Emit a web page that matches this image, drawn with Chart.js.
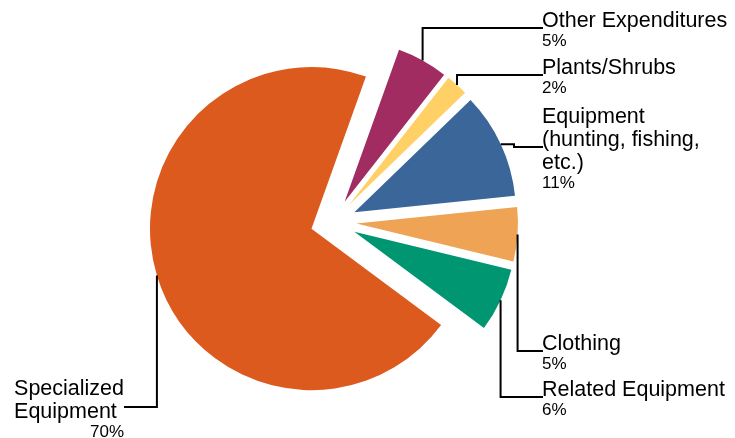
<!DOCTYPE html>
<html lang="en">
  <head>
    <meta charset="UTF-8" />
    <meta name="viewport" content="width=device-width, initial-scale=1.0" />
    <script src="https://cdn.jsdelivr.net/npm/chart.js@4.4.0/dist/chart.umd.min.js"></script>
    <title>Expenditures</title>
    <style>
      html, body { margin: 0; padding: 0; background: #fff; }
      canvas { display: block; }
    </style>
  </head>
  <body>
    <canvas id="myChart" width="735" height="438"></canvas>

    <script>
      // slices, clockwise starting at the top right
      const categories = [
        'Other Expenditures',
        'Plants/Shrubs',
        ['Equipment', '(hunting, fishing,', 'etc.)'],
        'Clothing',
        'Related Equipment',
        ['Specialized', 'Equipment']
      ];
      const shares = [5.1, 2.2, 10.6, 5.4, 6.4, 70.3];
      const colors = ['#a12c62', '#fed066', '#3a6699', '#eea355', '#009672', '#dd5a1f'];

      // label placement (end of each leader line)
      const labelSide = ['right', 'right', 'right', 'right', 'right', 'left'];
      const labelX = [543, 543, 543, 543, 543, 124];
      const labelY = [28, 75, 147, 351, 397, 407];
      const elbowX = [null, null, 514, null, null, null];

      const EXPLODE = 23;
      const FONT = '"Liberation Sans", Arial, sans-serif';
      const LINE_H = 23;
      const PCT_GAP = 19;

      // push every slice out along its middle angle
      const explode = {
        id: 'explode',
        afterDatasetsUpdate(chart) {
          chart.getDatasetMeta(0).data.forEach(arc => {
            const mid = (arc.startAngle + arc.endAngle) / 2;
            arc.x += Math.cos(mid) * EXPLODE;
            arc.y += Math.sin(mid) * EXPLODE;
          });
        }
      };

      const leaderLabels = {
        id: 'leaderLabels',
        afterDatasetsDraw(chart) {
          const ctx = chart.ctx;
          const total = shares.reduce((a, b) => a + b, 0);
          chart.getDatasetMeta(0).data.forEach((arc, i) => {
            const mid = (arc.startAngle + arc.endAngle) / 2;
            const px = arc.x + Math.cos(mid) * arc.outerRadius;
            const py = arc.y + Math.sin(mid) * arc.outerRadius;
            const ex = elbowX[i] === null ? px : elbowX[i];

            ctx.save();
            ctx.strokeStyle = '#000';
            ctx.lineWidth = 2;
            ctx.beginPath();
            ctx.moveTo(px, py);
            ctx.lineTo(ex, py);
            ctx.lineTo(ex, labelY[i]);
            ctx.lineTo(labelX[i], labelY[i]);
            ctx.stroke();

            const lines = [].concat(categories[i]);
            const pct = Math.round(shares[i] / total * 100) + '%';
            const blockH = 15 + (lines.length - 1) * LINE_H + PCT_GAP;
            const y0 = labelY[i] - blockH / 2 + 16;

            ctx.fillStyle = '#000';
            ctx.textBaseline = 'alphabetic';
            ctx.font = '21.5px ' + FONT;
            const w = Math.max(...lines.map(s => ctx.measureText(s).width));
            const left = labelSide[i] === 'left' ? labelX[i] - w : labelX[i] - 1;
            ctx.textAlign = 'left';
            lines.forEach((s, k) => ctx.fillText(s, left, y0 + k * LINE_H));

            ctx.font = '17px ' + FONT;
            const pctY = y0 + (lines.length - 1) * LINE_H + PCT_GAP;
            if (labelSide[i] === 'left') {
              ctx.textAlign = 'right';
              ctx.fillText(pct, labelX[i], pctY);
            } else {
              ctx.fillText(pct, left, pctY);
            }
            ctx.restore();
          });
        }
      };

      const ctx = document.getElementById('myChart').getContext('2d');
      const myChart = new Chart(ctx, {
        type: 'pie',
        data: {
          labels: categories,
          datasets: [{
            data: shares,
            backgroundColor: colors,
            borderWidth: 0
          }]
        },
        options: {
          responsive: false,
          animation: false,
          events: [],
          rotation: 19.7,
          radius: 161.5,
          layout: { padding: { left: 0, right: 68, top: 6, bottom: 0 } },
          plugins: {
            legend: { display: false },
            tooltip: { enabled: false }
          }
        },
        plugins: [explode, leaderLabels]
      });
    </script>
  </body>
</html>
